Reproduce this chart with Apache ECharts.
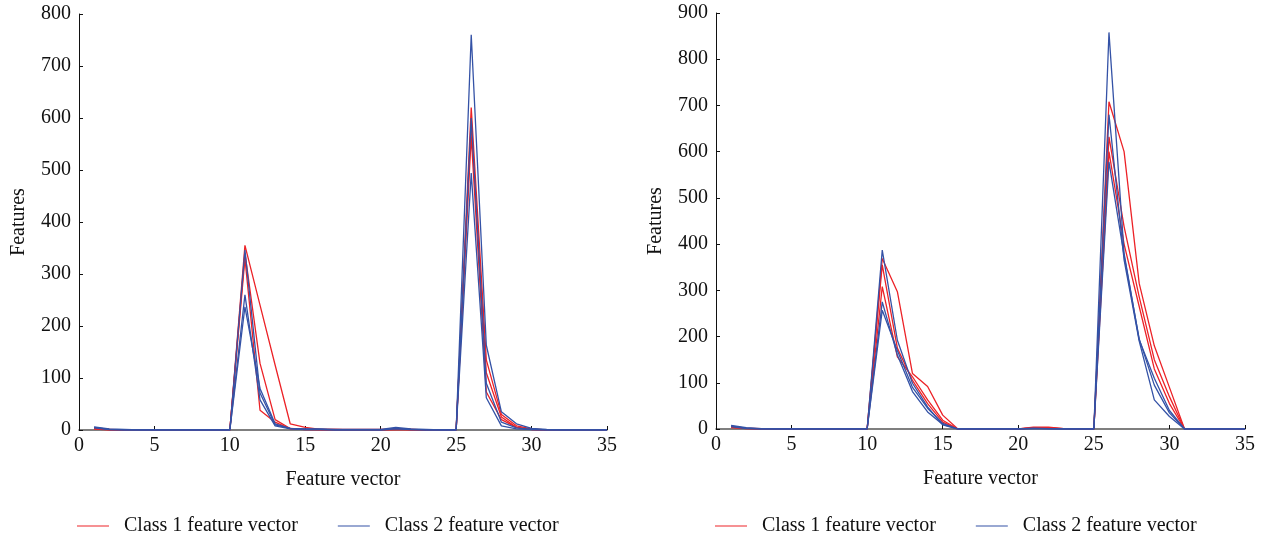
<!DOCTYPE html>
<html lang='en'>
  <head>
    <meta charset='utf-8'>
    <title>Feature vectors</title>
    <style>
      html, body { margin: 0; padding: 0; background: #fff; }
    </style>
  </head>
  <body>
    <div id="main" style="width:1263px;height:542px;"></div>

    <script src="https://cdn.jsdelivr.net/npm/echarts@6/dist/echarts.min.js"></script>
    <script>
      // feature index 1..35
      var featureIdx = [];
      for (var i = 1; i <= 35; i++) featureIdx.push(i);

      var xTicks = [0, 5, 10, 15, 20, 25, 30, 35];
      var yTicksLeft = [0, 100, 200, 300, 400, 500, 600, 700, 800];
      var yTicksRight = [0, 100, 200, 300, 400, 500, 600, 700, 800, 900];

      // left panel, class 1 (red)
      var leftRed1 = [3,1,0,0,0,0,0,0,0,0, 355,240,125,12,5,1,1,1,1,1, 2,1,0,0,0, 620,135,30,8,2, 0,0,0,0,0];
      var leftRed2 = [2,1,0,0,0,0,0,0,0,0, 340,128,20,3,1,1,1,0,0,0, 1,1,0,0,0, 565,73,20,5,1, 0,0,0,0,0];
      var leftRed3 = [2,0,0,0,0,0,0,0,0,0, 330,38,15,2,1,0,0,0,0,0, 1,0,0,0,0, 590,110,25,5,1, 0,0,0,0,0];
      // left panel, class 2 (blue)
      var leftBlue1 = [6,2,1,0,0,0,0,0,0,0, 346,71,10,3,2,2,1,1,1,1, 5,2,1,0,0, 760,163,35,12,3, 1,0,0,0,0];
      var leftBlue2 = [5,1,0,0,0,0,0,0,0,0, 260,58,8,2,1,1,0,0,0,0, 3,1,0,0,0, 494,62,8,2,1, 0,0,0,0,0];
      var leftBlue3 = [4,1,0,0,0,0,0,0,0,0, 237,80,12,3,1,1,0,0,0,0, 2,1,0,0,0, 600,90,15,4,1, 0,0,0,0,0];

      // right panel, class 1 (red)
      var rightRed1 = [5,2,1,0,0,0,0,0,0,0, 369,297,120,92,30,0,0,0,0,0, 4,4,1,0,0, 708,600,315,180,90, 0,0,0,0,0];
      var rightRed2 = [3,1,0,0,0,0,0,0,0,0, 308,156,113,63,19,0,0,0,0,0, 2,3,1,0,0, 632,438,286,150,70, 0,0,0,0,0];
      var rightRed3 = [4,1,0,0,0,0,0,0,0,0, 355,175,105,55,15,0,0,0,0,0, 3,2,0,0,0, 600,400,265,130,55, 0,0,0,0,0];
      // right panel, class 2 (blue)
      var rightBlue1 = [8,3,1,0,0,0,0,0,0,0, 387,192,99,48,9,0,0,0,0,0, 2,1,0,0,0, 858,380,193,110,40, 0,0,0,0,0];
      var rightBlue2 = [6,2,0,0,0,0,0,0,0,0, 275,160,81,37,10,0,0,0,0,0, 1,1,0,0,0, 680,366,190,63,27, 0,0,0,0,0];
      var rightBlue3 = [5,1,0,0,0,0,0,0,0,0, 257,170,90,45,12,0,0,0,0,0, 1,0,0,0,0, 578,375,195,95,35, 0,0,0,0,0];

      var CLASS1 = 'Class 1 feature vector';
      var CLASS2 = 'Class 2 feature vector';
      var RED = '#ec2227';
      var BLUE = '#3452a6';
      var FONT = 'Liberation Serif';
      var FS = 20;

      function pairs(vals) {
        return featureIdx.map(function (x, k) { return [x, vals[k]]; });
      }

      function lineSeries(name, color, vals, idx) {
        return {
          name: name,
          type: 'line',
          xAxisIndex: idx,
          yAxisIndex: idx,
          data: pairs(vals),
          symbol: 'none',
          showSymbol: false,
          animation: false,
          lineStyle: { color: color, width: 1.3 },
          itemStyle: { color: color }
        };
      }

      function xAxis(idx) {
        return {
          type: 'value',
          gridIndex: idx,
          min: xTicks[0],
          max: xTicks[xTicks.length - 1],
          interval: 5,
          name: 'Feature vector',
          nameLocation: 'middle',
          nameGap: 40,
          nameTextStyle: { fontFamily: FONT, fontSize: FS, color: '#111' },
          axisLine: { lineStyle: { color: '#555', width: 1.5 } },
          axisTick: { inside: true, length: 4, lineStyle: { color: '#111' } },
          axisLabel: { fontFamily: FONT, fontSize: FS, color: '#111', margin: 6 },
          splitLine: { show: false }
        };
      }

      function yAxis(idx, ticks) {
        return {
          type: 'value',
          gridIndex: idx,
          min: ticks[0],
          max: ticks[ticks.length - 1],
          interval: 100,
          name: 'Features',
          nameLocation: 'middle',
          nameGap: 50,
          nameRotate: 90,
          nameTextStyle: { fontFamily: FONT, fontSize: FS, color: '#111' },
          axisLine: { show: true, lineStyle: { color: '#111', width: 1 } },
          axisTick: { show: true, inside: true, length: 4, lineStyle: { color: '#111' } },
          axisLabel: { fontFamily: FONT, fontSize: FS, color: '#111', margin: 8 },
          splitLine: { show: false }
        };
      }

      function legend(left) {
        return {
          left: left,
          top: 511,
          data: [CLASS1, CLASS2],
          itemWidth: 32,
          itemHeight: 10,
          itemGap: 40,
          icon: 'path://M0,5 L32,5 L32,6 L0,6 Z',
          textStyle: { fontFamily: FONT, fontSize: FS, color: '#111', padding: [0, 0, 0, 10] }
        };
      }

      var myChart = echarts.init(document.getElementById('main'));
      var option = {
        backgroundColor: '#fff',
        animation: false,
        legend: [legend(72), legend(710)],
        grid: [
          { left: 79, top: 14, width: 528, height: 416 },
          { left: 716, top: 13, width: 529, height: 416 }
        ],
        xAxis: [xAxis(0), xAxis(1)],
        yAxis: [yAxis(0, yTicksLeft), yAxis(1, yTicksRight)],
        series: [
          lineSeries(CLASS1, RED, leftRed1, 0),
          lineSeries(CLASS1, RED, leftRed2, 0),
          lineSeries(CLASS1, RED, leftRed3, 0),
          lineSeries(CLASS2, BLUE, leftBlue1, 0),
          lineSeries(CLASS2, BLUE, leftBlue2, 0),
          lineSeries(CLASS2, BLUE, leftBlue3, 0),
          lineSeries(CLASS1, RED, rightRed1, 1),
          lineSeries(CLASS1, RED, rightRed2, 1),
          lineSeries(CLASS1, RED, rightRed3, 1),
          lineSeries(CLASS2, BLUE, rightBlue1, 1),
          lineSeries(CLASS2, BLUE, rightBlue2, 1),
          lineSeries(CLASS2, BLUE, rightBlue3, 1)
        ]
      };
      myChart.setOption(option);
    </script>
  </body>
</html>
